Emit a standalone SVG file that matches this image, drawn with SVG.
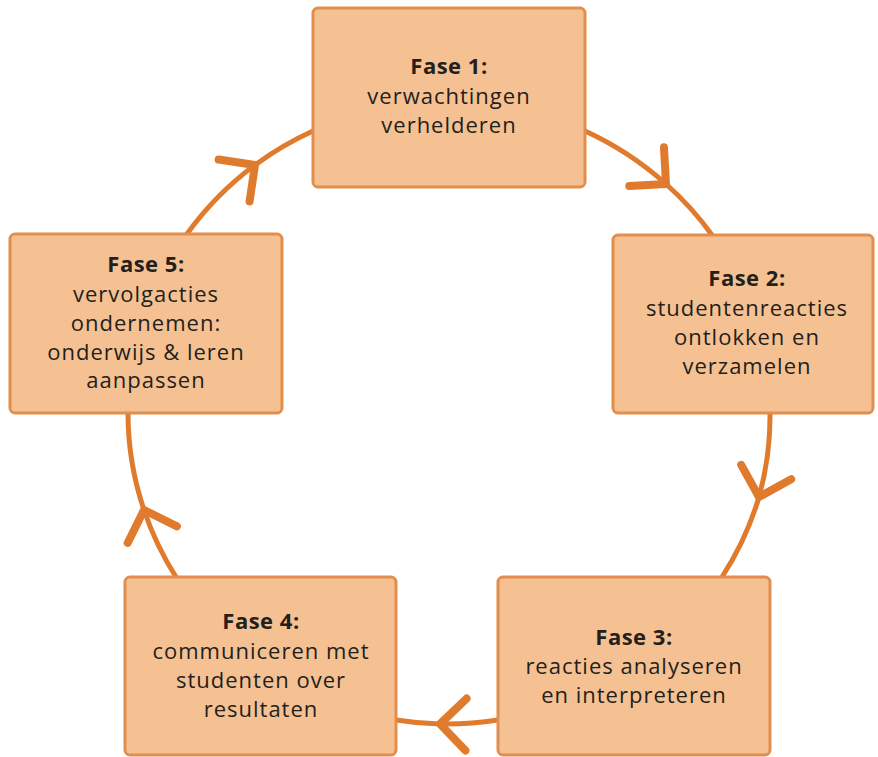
<svg xmlns="http://www.w3.org/2000/svg" width="878" height="757" viewBox="0 0 878 757">
<style>
.box{fill:#F5C192;stroke:#E28E4C;stroke-width:3}
.con{fill:none;stroke:#E07B2E;stroke-width:5;stroke-linecap:round;marker-mid:url(#chev)}
text{font-family:"Open Sans","Noto Sans",sans-serif;font-size:22px;fill:#231F1C;text-anchor:middle;letter-spacing:1px}
.t{font-weight:bold;letter-spacing:0.5px}
</style>
<defs>
<marker id="chev" markerUnits="userSpaceOnUse" viewBox="-35 -35 45 70" markerWidth="45" markerHeight="70" refX="0" refY="0" orient="auto" overflow="visible">
<path d="M -26,-26 L 0,0 L -26,26" fill="none" stroke="#E07B2E" stroke-width="8" stroke-linecap="round" stroke-linejoin="round"/>
</marker>
</defs>
<rect width="878" height="757" fill="#FFFFFF"/>
<g id="connectors">
<path class="con" d="M 585,131 A 321 311 0 0 1 666,184 A 321 311 0 0 1 712,235"/>
<path class="con" d="M 770,413 A 321 311 0 0 1 759,497 A 321 311 0 0 1 722,577"/>
<path class="con" d="M 498,720 A 321 311 0 0 1 440,724 A 321 311 0 0 1 396,720"/>
<path class="con" d="M 176,577 A 321 311 0 0 1 144,510 A 321 311 0 0 1 128,413"/>
<path class="con" d="M 187,234 A 321 311 0 0 1 255,165 A 321 311 0 0 1 313,131"/>
</g>
<g id="fase1">
<rect class="box" x="313" y="8" width="272" height="179" rx="5"/>
<text x="449" y="74" class="t">Fase 1:</text>
<text x="449" y="104">verwachtingen</text>
<text x="449" y="133">verhelderen</text>
</g>
<g id="fase2">
<rect class="box" x="613" y="235" width="260" height="178" rx="5"/>
<text x="747" y="286" class="t">Fase 2:</text>
<text x="747" y="316">studentenreacties</text>
<text x="747" y="345">ontlokken en</text>
<text x="747" y="374">verzamelen</text>
</g>
<g id="fase3">
<rect class="box" x="498" y="577" width="272" height="178" rx="5"/>
<text x="634" y="645" class="t">Fase 3:</text>
<text x="634" y="674">reacties analyseren</text>
<text x="634" y="703">en interpreteren</text>
</g>
<g id="fase4">
<rect class="box" x="125" y="577" width="271" height="178" rx="5"/>
<text x="261" y="629" class="t">Fase 4:</text>
<text x="261" y="659">communiceren met</text>
<text x="261" y="688">studenten over</text>
<text x="261" y="717">resultaten</text>
</g>
<g id="fase5">
<rect class="box" x="10" y="234" width="272" height="179" rx="5"/>
<text x="146" y="272" class="t">Fase 5:</text>
<text x="146" y="302">vervolgacties</text>
<text x="146" y="331">ondernemen:</text>
<text x="146" y="360">onderwijs &amp; leren</text>
<text x="146" y="388">aanpassen</text>
</g>
</svg>
